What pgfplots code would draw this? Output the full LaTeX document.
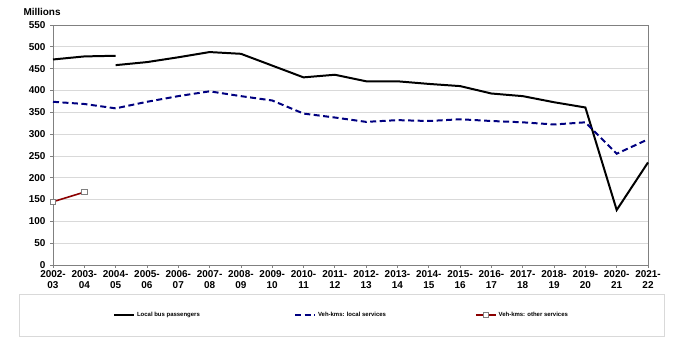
\documentclass[border=0pt]{standalone}
\usepackage{pgfplots}
\pgfplotsset{compat=1.18}
\usepackage{fontspec}
\setmainfont{Liberation Sans}
\definecolor{gridc}{HTML}{D9D9D9}
\definecolor{axc}{HTML}{808080}
\definecolor{navyc}{HTML}{000080}
\definecolor{redc}{HTML}{8B0000}
\begin{document}
\begin{tikzpicture}[x=1bp,y=1bp]
\useasboundingbox (0,0) rectangle (688,354);
\begin{axis}[
  at={(53bp,89bp)}, anchor=south west,
  scale only axis, width=595bp, height=240bp,
  xmin=0, xmax=19, ymin=0, ymax=550,
  xtick={0,...,19},
  xticklabels={{2002-\\03},{2003-\\04},{2004-\\05},{2005-\\06},{2006-\\07},{2007-\\08},{2008-\\09},{2009-\\10},{2010-\\11},{2011-\\12},{2012-\\13},{2013-\\14},{2014-\\15},{2015-\\16},{2016-\\17},{2017-\\18},{2018-\\19},{2019-\\20},{2020-\\21},{2021-\\22}},
  x tick label style={align=center, font=\fontsize{10}{11}\selectfont\bfseries, yshift=1bp},
  ytick distance=50,
  y tick label style={font=\fontsize{10}{11}\selectfont\bfseries, xshift=-1bp},
  /pgf/number format/assume math mode=true,
  tick align=outside, tick pos=left,
  major tick length=3bp,
  every tick/.style={axc, line width=0.8pt},
  ymajorgrids, grid style={gridc, line width=0.8pt},
  axis line style={axc, line width=1pt},
  legend columns=3,
  legend style={at={(0.4849,-0.2083)}, anchor=center, draw=gridc, line width=0.6pt,
    inner xsep=94bp, inner ysep=16bp,
    font=\fontsize{6}{7}\selectfont\bfseries},
  legend cell align=left,
  legend image code/.code={\draw[mark repeat=2, mark phase=2, #1] plot coordinates {(0bp,0bp)(10bp,0bp)(20bp,0bp)};},
  clip=false,
]
\addplot[black, line width=2pt, forget plot] coordinates {(0,471)(1,478)(2,479.5)};
\addplot[black, line width=2pt] coordinates {(2,458)(3,465)(4,476)(5,488)(6,484)(7,457)(8,430)(9,436)(10,421)(11,421)(12,415)(13,410)(14,393)(15,387)(16,373)(17,361)(18,126)(19,235)};
\addlegendentry{\makebox[155bp][l]{Local bus passengers}}
\addplot[navyc, line width=2pt, dash pattern=on 6bp off 3.5bp] coordinates {(0,374)(1,369)(2,359)(3,374)(4,387)(5,398)(6,387)(7,377)(8,347)(9,338)(10,328)(11,332)(12,330)(13,334)(14,330)(15,327)(16,322)(17,327)(18,255)(19,288)};
\addlegendentry{\makebox[155bp][l]{Veh-kms: local services}}
\addplot[redc, line width=1.6pt, mark=square*, mark size=2.6bp, mark options={fill=white, draw=axc, line width=0.8pt, solid}] coordinates {(0,145)(1,167)};
\addlegendentry{Veh-kms: other services}
\end{axis}
\node[anchor=west, font=\fontsize{10}{11}\selectfont\bfseries] at (20,342) {Millions};
\end{tikzpicture}
\end{document}
